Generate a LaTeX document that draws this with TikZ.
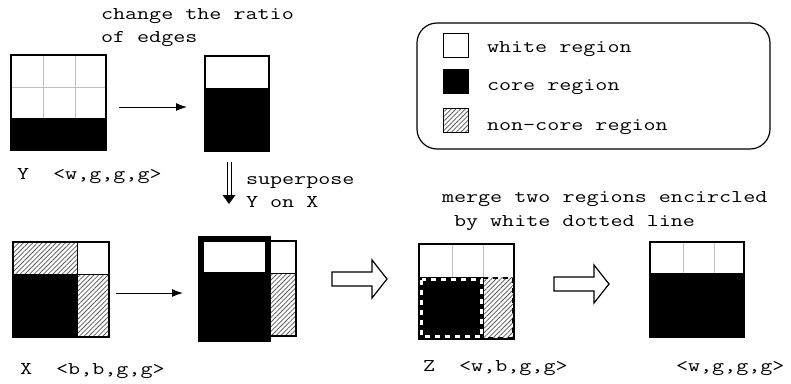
\documentclass[tikz,border=0pt]{standalone}
\usetikzlibrary{patterns.meta,arrows.meta}
\newcommand{\mtext}[1]{\scalebox{1.3}[1]{\fontsize{18}{23}\selectfont\ttfamily #1}}
\begin{document}
\begin{tikzpicture}[x=1pt,y=-1pt,
  txt/.style={anchor=base west,inner sep=0pt,outer sep=0pt},
  boxnode/.style={draw=black,line width=1.2pt,inner sep=0pt,outer sep=0pt,fill=none},
  gridline/.style={draw=gray!50,line width=0.6pt},
  hatch/.style={pattern={Lines[angle=45,distance=3.3pt,line width=0.75pt]},pattern color=black!65},
  thinarrow/.style={line width=1pt,-{Latex[length=11pt,width=8pt]}},
  hollow/.style={draw=black,line width=1.2pt,fill=white,line join=miter},
  encircle/.style={draw=black,line width=5pt},
  encircledots/.style={draw=white,line width=3pt,dash pattern=on 5pt off 5pt},
  hatchdots/.style={draw=black,line width=2pt,dash pattern=on 5pt off 5pt}
]
\useasboundingbox (0,0) rectangle (791,383);

% ---------- legend ----------
\node[draw=black,line width=1.2pt,rounded corners=20pt,minimum width=353pt,minimum height=126pt,inner sep=0pt] (legend) at (593.5,86) {};
\node[draw=black,line width=1pt,fill=white,minimum width=25pt,minimum height=24pt,inner sep=0pt] (lgw) at (455.5,45) {};
\node[draw=black,line width=1pt,fill=black,minimum width=25pt,minimum height=24pt,inner sep=0pt] (lgc) at (455.5,81) {};
\node[draw=black,line width=1pt,hatch,minimum width=25pt,minimum height=24pt,inner sep=0pt] (lgn) at (455.5,120.5) {};
\node[txt] (lgwt) at (487,52) {\mtext{white region}};
\node[txt] (lgct) at (487,90) {\mtext{core region}};
\node[txt] (lgnt) at (487,130) {\mtext{non-core region}};

% ---------- box Y ----------
\fill[white] (11,55) rectangle (106,118);
\draw[gridline] (43,55)--(43,150) (75,55)--(75,150) (11,87)--(106,87);
\fill[black] (11,118) rectangle (106,150);
\node[boxnode,minimum width=95pt,minimum height=95pt] (Ybox) at (58.5,102.5) {};
\node[txt] (Ylab) at (17,179) {\mtext{Y\ \ <w,g,g,g>}};

% ---------- box Y' ----------
\fill[white] (205,56) rectangle (269,88);
\fill[black] (205,88) rectangle (269,151);
\node[boxnode,minimum width=64pt,minimum height=95pt] (Ypbox) at (237,103.5) {};
\node[txt] (chg1) at (101,19) {\mtext{change the ratio}};
\node[txt] (chg2) at (101,42) {\mtext{of edges}};

\coordinate (a1s) at (119,107);
\coordinate (a1e) at (187,107);
\draw[thinarrow] (a1s) -- (a1e);

% ---------- double arrow ----------
\coordinate (d1) at (229,162);
\coordinate (d2) at (229,204);
\draw[line width=1pt] ([xshift=-2pt]d1) -- ([xshift=-2pt,yshift=8pt]d2);
\draw[line width=1pt] ([xshift=2pt]d1) -- ([xshift=2pt,yshift=8pt]d2);
\fill[black] ([xshift=-6.5pt,yshift=9pt]d2) -- ([xshift=6.5pt,yshift=9pt]d2) -- (d2) -- cycle;
\node[txt] (sup1) at (246,184) {\mtext{superpose}};
\node[txt] (sup2) at (246,207) {\mtext{Y on X}};

% ---------- box X ----------
\path[hatch] (13,242) rectangle (77,274);
\fill[white] (77,242) rectangle (109,274);
\fill[black] (13,274) rectangle (77,337);
\path[hatch] (77,274) rectangle (109,337);
\draw[line width=1pt] (77,242)--(77,337) (13,274)--(109,274);
\node[boxnode,minimum width=96pt,minimum height=95pt] (Xbox) at (61,289.5) {};
\node[txt] (Xlab) at (20,374) {\mtext{X\ \ <b,b,g,g>}};

\coordinate (a2s) at (116,293);
\coordinate (a2e) at (183,293);
\draw[thinarrow] (a2s) -- (a2e);

% ---------- superposed ----------
\fill[white] (268,241) rectangle (296,273);
\path[hatch] (268,273) rectangle (296,336);
\draw[line width=1pt] (268,273)--(296,273);
\node[boxnode,minimum width=95pt,minimum height=95pt] (SXbox) at (248.5,288.5) {};
\fill[white] (201,239) rectangle (268,272);
\fill[black] (201,272) rectangle (268,339);
\draw[gray!70,line width=0.8pt] (203,336)--(265,336);
\node[draw=black,line width=6pt,minimum width=67pt,minimum height=100pt,inner sep=0pt] (SYbox) at (234.5,289) {};

% ---------- hollow arrow 1 ----------
\coordinate (h1) at (332,279);
\draw[hollow] (h1) ++(0,-7) -- ++(40,0) -- ++(0,-12) -- ++(15,19) -- ++(-15,19) -- ++(0,-12) -- ++(-40,0) -- cycle;

% ---------- box Z ----------
\fill[white] (419,244) rectangle (514,277);
\draw[gridline] (452,244)--(452,277) (483,244)--(483,277);
\fill[black] (419,277) rectangle (483,339);
\path[hatch] (483,277) rectangle (514,339);
\node[boxnode,minimum width=95pt,minimum height=95pt] (Zbox) at (466.5,291.5) {};
\draw[hatchdots] (483,278) -- (513,278) -- (513,338) -- (483,338);
\draw[encircle] (421.5,279.5) rectangle (481.5,336.5);
\draw[encircledots] (421.5,279.5) rectangle (481.5,336.5);
\node[txt] (mg1) at (442,202) {\mtext{merge two regions encircled}};
\node[txt] (mg2) at (454,226) {\mtext{by white dotted line}};
\node[txt] (Zlab) at (423,371) {\mtext{Z\ \ <w,b,g,g>}};

% ---------- hollow arrow 2 ----------
\coordinate (h2) at (554,284);
\draw[hollow] (h2) ++(0,-7) -- ++(40,0) -- ++(0,-12) -- ++(15,19) -- ++(-15,19) -- ++(0,-12) -- ++(-40,0) -- cycle;

% ---------- final box ----------
\fill[white] (650,242) rectangle (744,273);
\draw[gridline] (683,242)--(683,273) (714,242)--(714,273);
\fill[black] (650,273) rectangle (744,337);
\node[boxnode,minimum width=94pt,minimum height=95pt] (Fbox) at (697,289.5) {};
\node[txt] (Flab) at (676,371) {\mtext{<w,g,g,g>}};
\end{tikzpicture}
\end{document}
